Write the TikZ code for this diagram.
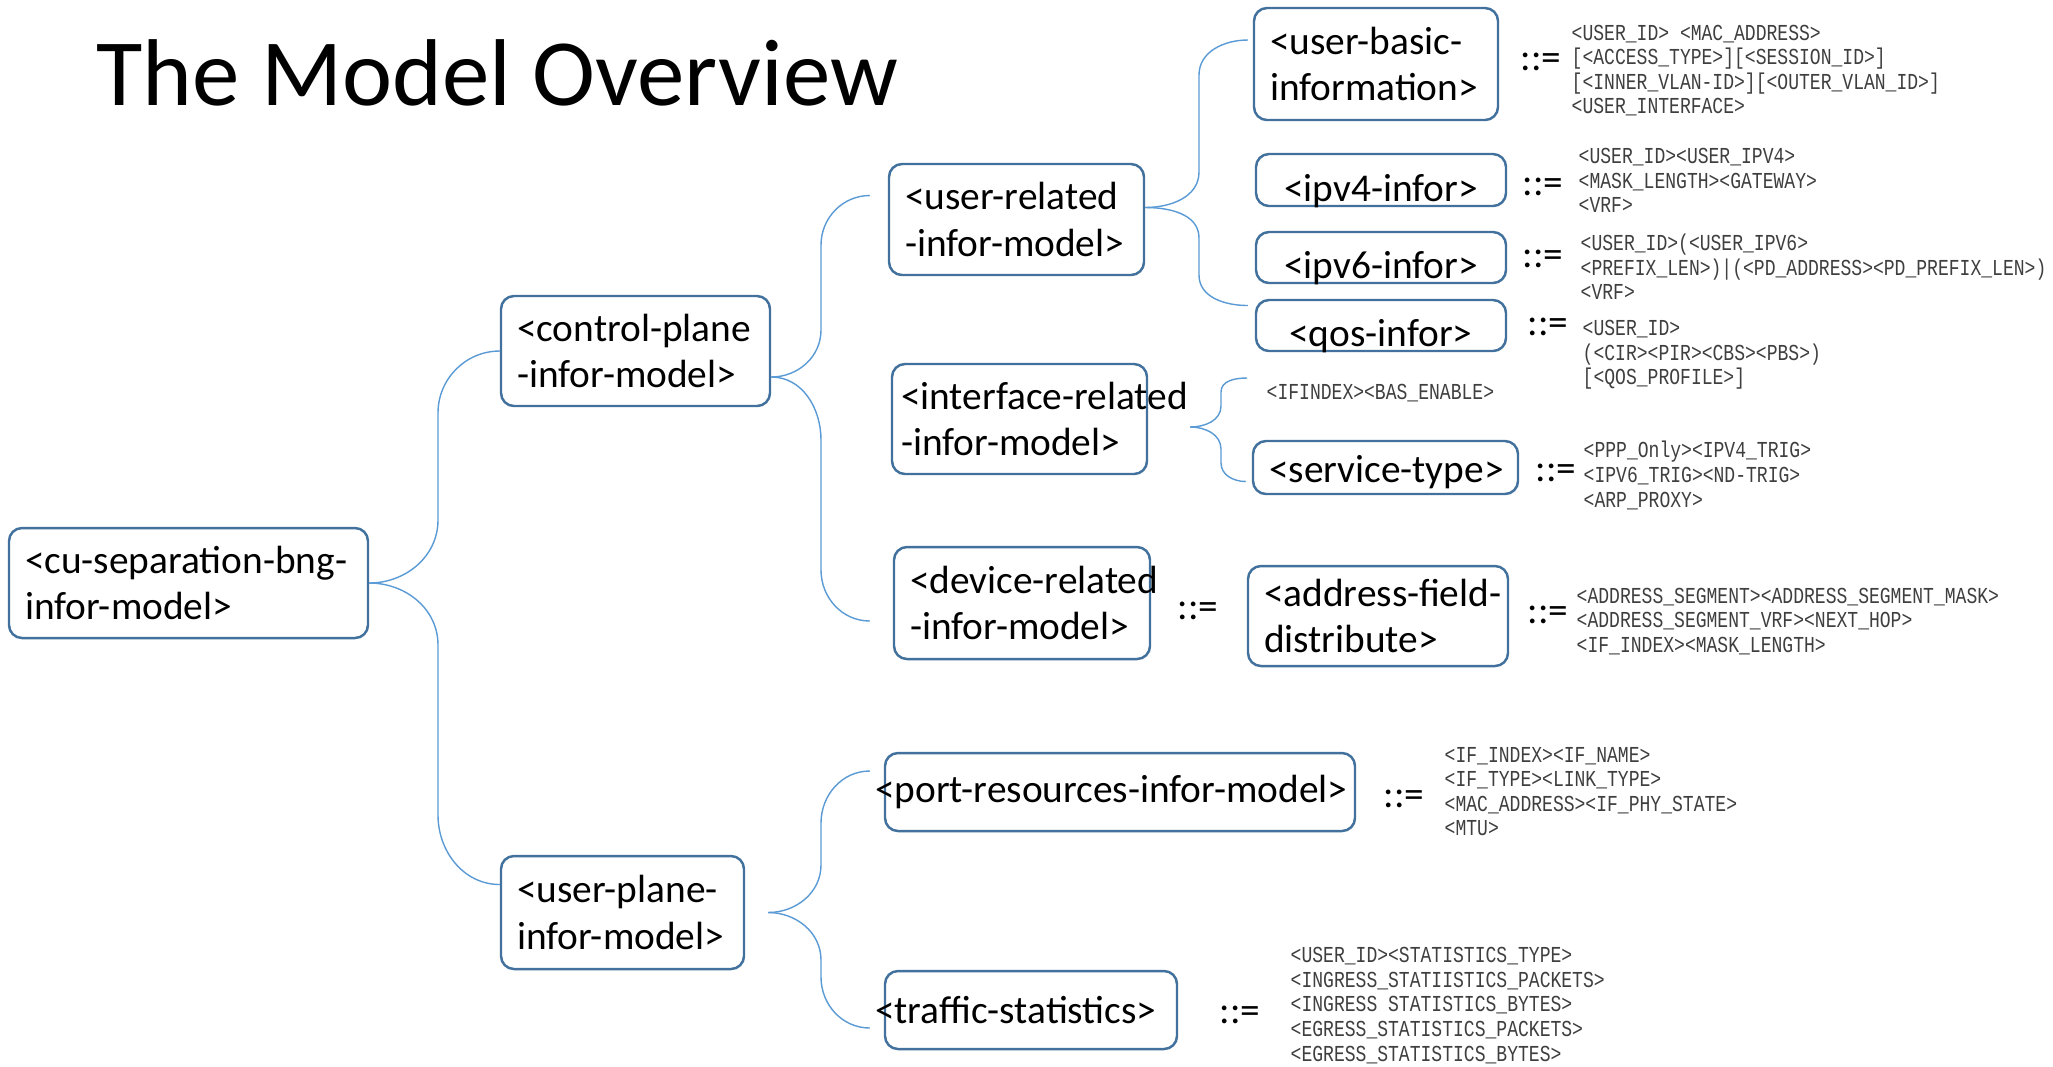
\documentclass[tikz,border=0pt]{standalone}
\usepackage{fontspec}
\setmainfont{Carlito}
\newfontfamily\specfont[FakeStretch=0.79]{Liberation Mono}
\usepackage{xcolor}
\usepackage{tikz}
\definecolor{bg}{HTML}{FFFFFF}
\definecolor{frame}{HTML}{41719C}
\definecolor{wire}{HTML}{5B9BD5}
\definecolor{spectext}{HTML}{3F3F3F}
\exhyphenpenalty=10000
\hyphenpenalty=10000
\tikzset{
  box/.style={draw=frame, line width=0.7pt, rounded corners=1.3mm, align=left, inner xsep=1.6mm, inner ysep=0.5mm, font=\fontsize{11.2}{13.2}\selectfont},
  onebox/.style={box, align=center},
  lowbox/.style={onebox, inner ysep=0.2mm, text height=4.3mm, text depth=0.1mm},
  widebox/.style={box, inner xsep=-1mm},
  link/.style={draw=wire, line width=0.4pt},
  defs/.style={inner sep=0pt, font=\fontsize{11.2}{13.2}\selectfont},
  spec/.style={anchor=west, align=left, inner sep=0pt, text=spectext, font=\specfont\fontsize{6.5}{7}\selectfont},
  heading/.style={anchor=base west, inner sep=0pt, font=\fontsize{27}{30}\selectfont}
}

\begin{document}
\begin{tikzpicture}[x=0.1mm, y=0.1mm]
  \fill[bg] (0,0) rectangle (2053,-1066);
  \node[heading] (ttl) at (96,-105) {The Model Overview};

  \node[box, text width=32.7mm, minimum height=11mm] (root) at (188.5,-583) {<cu-separation-bng-\\infor-model>};
  \node[box, text width=23.7mm, minimum height=11mm] (ctrl) at (635.5,-351) {<control-plane\\-infor-model>};
  \node[box, text width=21.1mm, minimum height=11.3mm] (up) at (622.5,-912.5) {<user-plane-\\infor-model>};
  \node[box, text width=22.3mm, minimum height=11.1mm] (usr) at (1016.5,-219.5) {<user-related\\-infor-model>};
  \node[box, inner xsep=0.9mm, text width=23.7mm, minimum height=11mm] (ifc) at (1019.5,-419) {<interface-related\\-infor-model>};
  \node[box, text width=22.4mm, minimum height=11.2mm] (dev) at (1022,-603) {<device-related\\-infor-model>};
  \node[box, text width=21.2mm, minimum height=11.2mm] (basic) at (1376,-64) {<user-basic-\\information>};
  \node[lowbox, text width=21.8mm, minimum height=5.2mm] (four) at (1381,-180) {<ipv4-infor>};
  \node[lowbox, text width=21.8mm, minimum height=5.1mm] (six) at (1381,-257.5) {<ipv6-infor>};
  \node[lowbox, text width=21.8mm, minimum height=5.1mm] (qos) at (1381,-325.5) {<qos-infor>};
  \node[onebox, inner ysep=0.3mm, text height=3.4mm, text depth=0.4mm, text width=23.3mm, minimum height=5.3mm] (svc) at (1385.5,-467.5) {<service-type>};
  \node[box, text width=22.8mm, minimum height=10mm] (addr) at (1378,-616) {<address-field-\\distribute>};
  \node[widebox, text width=49mm, minimum height=7.8mm] (port) at (1120,-792) {<port-resources-infor-model>};
  \node[widebox, text width=31.2mm, minimum height=7.8mm] (traf) at (1031,-1010) {<traffic-statistics>};

  \node[defs] (eqbasic) at (1541,-62) {::=};
  \node[defs] (eqfour) at (1543,-187) {::=};
  \node[defs] (eqsix) at (1543,-259) {::=};
  \node[defs] (eqqos) at (1548,-327) {::=};
  \node[defs] (eqsvc) at (1556,-473) {::=};
  \node[defs] (eqdev) at (1198,-611) {::=};
  \node[defs] (eqaddr) at (1548,-615) {::=};
  \node[defs] (eqport) at (1404,-799) {::=};
  \node[defs] (eqtraf) at (1240,-1015) {::=};

  \node[spec] (spbasic) at (1571,-70.5) {<USER\_ID> <MAC\_ADDRESS>\\{[}<ACCESS\_TYPE>{]}{[}<SESSION\_ID>{]}\\{[}<INNER\_VLAN-ID>{]}{[}<OUTER\_VLAN\_ID>{]}\\<USER\_INTERFACE>};
  \node[spec] (spfour) at (1578,-180.5) {<USER\_ID><USER\_IPV4>\\<MASK\_LENGTH><GATEWAY>\\<VRF>};
  \node[spec] (spsix) at (1580,-267) {<USER\_ID>(<USER\_IPV6>\\<PREFIX\_LEN>)|(<PD\_ADDRESS><PD\_PREFIX\_LEN>)\\<VRF>};
  \node[spec] (spqos) at (1582,-355) {<USER\_ID>\\(<CIR><PIR><CBS><PBS>)\\{[}<QOS\_PROFILE>{]}};
  \node[spec] (ifidx) at (1266,-393) {<IFINDEX><BAS\_ENABLE>};
  \node[spec] (spsvc) at (1583,-475.5) {<PPP\_Only><IPV4\_TRIG>\\<IPV6\_TRIG><ND-TRIG>\\<ARP\_PROXY>};
  \node[spec] (spaddr) at (1576,-621.5) {<ADDRESS\_SEGMENT><ADDRESS\_SEGMENT\_MASK>\\<ADDRESS\_SEGMENT\_VRF><NEXT\_HOP>\\<IF\_INDEX><MASK\_LENGTH>};
  \node[spec] (spport) at (1444,-791.5) {<IF\_INDEX><IF\_NAME>\\<IF\_TYPE><LINK\_TYPE>\\<MAC\_ADDRESS><IF\_PHY\_STATE>\\<MTU>};
  \node[spec] (sptraf) at (1290,-1005.5) {<USER\_ID><STATISTICS\_TYPE>\\<INGRESS\_STATIISTICS\_PACKETS>\\<INGRESS STATISTICS\_BYTES>\\<EGRESS\_STATISTICS\_PACKETS>\\<EGRESS\_STATISTICS\_BYTES>};

  \coordinate (ta1) at (438,-520);
  \coordinate (ta2) at (438,-413);
  \coordinate (ta3) at (438,-645);
  \coordinate (ta4) at (438,-815);
  \draw[link] (root.east) to[out=0,in=-90] (ta1) -- (ta2) to[out=90,in=180] (ctrl.west);
  \draw[link] (root.east) to[out=0,in=90] (ta3) -- (ta4) to[out=-90,in=180] ([yshift=2.8mm]up.west);

  \coordinate (tb1) at (821,-330);
  \coordinate (tb2) at (821,-245);
  \coordinate (tb3) at (821,-440);
  \coordinate (tb4) at (821,-570);
  \draw[link] ([yshift=-2.6mm]ctrl.east) to[out=0,in=-90] (tb1) -- (tb2) to[out=90,in=180] ([xshift=-1.8mm,yshift=2.4mm]usr.west);
  \draw[link] ([yshift=-2.6mm]ctrl.east) to[out=0,in=90] (tb3) -- (tb4) to[out=-90,in=180] ([xshift=-2.3mm,yshift=-1.8mm]dev.west);

  \coordinate (tc1) at (1199,-172);
  \coordinate (tc2) at (1199,-75);
  \coordinate (tc3) at (1199,-238);
  \coordinate (tc4) at (1199,-275);
  \draw[link] ([yshift=1.2mm]usr.east) to[out=0,in=-90] (tc1) -- (tc2) to[out=90,in=180] ([xshift=-0.5mm,yshift=2.4mm]basic.west);
  \draw[link] ([yshift=1.2mm]usr.east) to[out=0,in=90] (tc3) -- (tc4) to[out=-90,in=180] ([xshift=-0.7mm,yshift=2mm]qos.west);

  \coordinate (td1) at (1221,-406);
  \coordinate (td2) at (1221,-392);
  \coordinate (td3) at (1221,-449);
  \coordinate (td4) at (1221,-463);
  \draw[link] ([xshift=4.2mm,yshift=-0.8mm]ifc.east) to[out=0,in=-90] (td1) -- (td2) to[out=90,in=180] ([xshift=-1.9mm,yshift=1.5mm]ifidx.west);
  \draw[link] ([xshift=4.2mm,yshift=-0.8mm]ifc.east) to[out=0,in=90] (td3) -- (td4) to[out=-90,in=180] ([xshift=-0.6mm,yshift=-1.4mm]svc.west);

  \coordinate (te1) at (821,-865);
  \coordinate (te2) at (821,-823);
  \coordinate (te3) at (821,-960);
  \coordinate (te4) at (821,-977);
  \draw[link] ([xshift=2.3mm]up.east) to[out=0,in=-90] (te1) -- (te2) to[out=90,in=180] ([xshift=-1.4mm,yshift=2.1mm]port.west);
  \draw[link] ([xshift=2.3mm]up.east) to[out=0,in=90] (te3) -- (te4) to[out=-90,in=180] ([xshift=-1.4mm,yshift=-1.8mm]traf.west);
\end{tikzpicture}
\end{document}
